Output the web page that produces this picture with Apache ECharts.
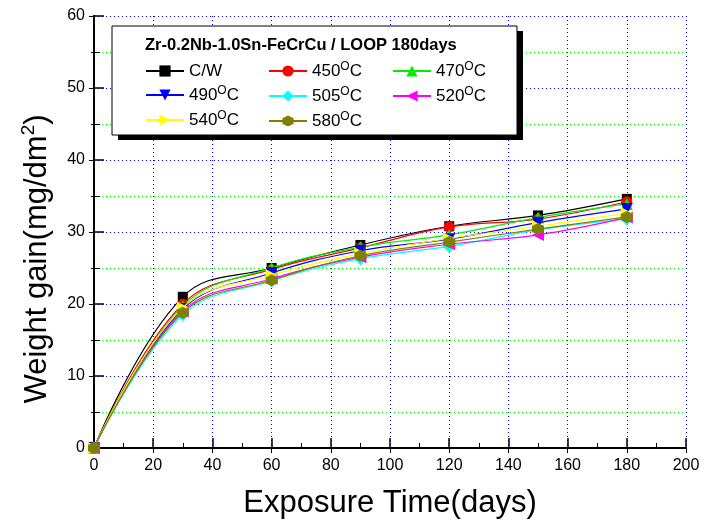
<!DOCTYPE html>
<html>
<head>
<meta charset="utf-8">
<script src="https://cdn.jsdelivr.net/npm/echarts@6/dist/echarts.min.js"></script>
<style>html,body{margin:0;padding:0;background:#fff}#c{width:704px;height:530px}</style>
</head>
<body>
<div id="c"></div>
<script>
// ---- data ----
const days = [0, 30, 60, 90, 120, 150, 180];
const seriesNames = ['C/W', '450', '470', '490', '505', '520', '540', '580'];
const cw   = [0, 21.0, 25.0, 28.2, 30.8, 32.3, 34.6];
const t450 = [0, 20.0, 24.8, 27.8, 30.7, 31.8, 34.2];
const t470 = [0, 19.7, 25.0, 27.9, 29.6, 32.0, 33.9];
const t490 = [0, 19.3, 24.3, 27.4, 29.0, 31.3, 33.2];
const t505 = [0, 18.5, 23.2, 26.3, 28.0, 30.3, 31.8];
const t520 = [0, 19.0, 23.5, 26.5, 28.3, 29.6, 32.0];
const t540 = [0, 19.5, 24.0, 27.0, 29.1, 30.8, 32.6];
const t580 = [0, 18.8, 23.3, 26.7, 28.6, 30.4, 32.1];
const xTicks = [0, 20, 40, 60, 80, 100, 120, 140, 160, 180, 200];
const yTicks = [0, 10, 20, 30, 40, 50, 60];
const legendTitle = 'Zr-0.2Nb-1.0Sn-FeCrCu / LOOP 180days';
const xName = 'Exposure Time(days)';
const yName = 'Weight gain(mg/dm{sup|2})';

const values = [cw, t450, t470, t490, t505, t520, t540, t580];
const colors = ['#000000', '#ff0000', '#00ee00', '#0000ff', '#00ffff', '#ff00ff', '#ffff00', '#808000'];
const hex = 'path://M50,0 L93.3,25 L93.3,75 L50,100 L6.7,75 L6.7,25 Z';
const symbols = [
  {s: 'rect', size: 10, r: 0},
  {s: 'circle', size: 11, r: 0},
  {s: 'triangle', size: 12, r: 0},
  {s: 'triangle', size: 12, r: 180},
  {s: 'diamond', size: 13, r: 0},
  {s: 'triangle', size: 12, r: 90},
  {s: 'triangle', size: 12, r: -90},
  {s: hex, size: 12, r: 0}
];

const FONT = 'Liberation Sans, Arial, sans-serif';

const series = seriesNames.map((n, i) => ({
  name: n,
  type: 'line',
  data: days.map((d, j) => [d, values[i][j]]),
  smooth: 0.4,
  symbol: symbols[i].s,
  symbolSize: symbols[i].size,
  symbolRotate: symbols[i].r,
  showAllSymbol: true,
  color: colors[i],
  lineStyle: {width: 1.2, color: colors[i]},
  itemStyle: {color: colors[i]},
  z: 3 + i
}));

const legendFmt = name => name === 'C/W' ? name : name + '{sup|O}C';
const legendText = {
  fontSize: 17, fontFamily: FONT, color: '#000', lineHeight: 20,
  rich: {sup: {fontSize: 12, fontFamily: FONT, color: '#000', verticalAlign: 'top', lineHeight: 20, padding: [0, 0, 9, 0]}}
};
function mkLegend(data, left) {
  return {
    data: data, left: left, top: 61, orient: 'vertical',
    itemWidth: 38, itemHeight: 14, itemGap: 4,
    formatter: legendFmt, textStyle: legendText, z: 10,
    selectedMode: false, padding: 0
  };
}

const axisFont = {fontSize: 16, fontFamily: FONT, color: '#000'};
const frameAxisLine = {show: true, lineStyle: {color: '#000', width: 2}};

const option = {
  animation: false,
  backgroundColor: '#fff',
  grid: {left: 94, right: 18, top: 16, bottom: 82, containLabel: false},
  legend: [
    mkLegend(['C/W', '490', '540'], 145),
    mkLegend(['450', '505', '580'], 268),
    mkLegend(['470', '520'], 392)
  ],
  graphic: [
    {type: 'rect', shape: {x: 118, y: 31, width: 405, height: 109}, style: {fill: '#000'}, z: 8},
    {type: 'rect', shape: {x: 112, y: 26, width: 405, height: 109}, style: {fill: '#fff', stroke: '#000', lineWidth: 1}, z: 9},
    {type: 'text', x: 145, y: 45, z: 10, style: {text: legendTitle, font: 'bold 16.5px "Liberation Sans", Arial, sans-serif', fill: '#000', verticalAlign: 'middle'}},
    {type: 'text', x: 37, y: 259, rotation: Math.PI / 2, z: 10,
      style: {text: yName, fontSize: 31, fontFamily: FONT, fill: '#000', align: 'center', verticalAlign: 'middle',
        rich: {sup: {fontSize: 19, fontFamily: FONT, fill: '#000', padding: [0, 0, 16, 0]}}}}
  ],
  xAxis: [
    {
      type: 'value', min: xTicks[0], max: xTicks[xTicks.length - 1], interval: 20,
      name: xName, nameLocation: 'middle', nameGap: 40,
      nameTextStyle: {fontSize: 31, fontFamily: FONT, color: '#000'},
      axisLine: frameAxisLine,
      axisTick: {inside: true, length: 10, lineStyle: {color: '#000', width: 1.5}},
      minorTick: {show: true, splitNumber: 2, length: 5, lineStyle: {color: '#000', width: 1}},
      axisLabel: Object.assign({margin: 10}, axisFont),
      splitLine: {show: true, lineStyle: {color: '#0000ff', type: [1, 3], width: 1}}
    },
    {
      type: 'value', position: 'top', min: xTicks[0], max: xTicks[xTicks.length - 1], interval: 20,
      axisLine: frameAxisLine,
      axisTick: {inside: true, length: 5, lineStyle: {color: '#000', width: 1}},
      axisLabel: {show: false}, splitLine: {show: false}
    }
  ],
  yAxis: [
    {
      type: 'value', min: yTicks[0], max: yTicks[yTicks.length - 1], interval: 10,
      axisLine: frameAxisLine,
      axisTick: {inside: true, length: 10, lineStyle: {color: '#000', width: 1.5}},
      minorTick: {show: true, splitNumber: 2, length: 6, lineStyle: {color: '#000', width: 1}},
      axisLabel: Object.assign({margin: 9}, axisFont),
      splitLine: {show: true, lineStyle: {color: '#0000ff', type: [1, 3], width: 1}},
      minorSplitLine: {show: true, lineStyle: {color: '#00ff00', type: [1, 3], width: 1}}
    },
    {
      type: 'value', position: 'right', min: yTicks[0], max: yTicks[yTicks.length - 1], interval: 10,
      axisLine: frameAxisLine,
      axisTick: {inside: true, length: 5, lineStyle: {color: '#000', width: 1}},
      minorTick: {show: true, splitNumber: 2, length: 3, lineStyle: {color: '#000', width: 1}},
      axisLabel: {show: false}, splitLine: {show: false}
    }
  ],
  series: series
};

const chart = echarts.init(document.getElementById('c'), null, {renderer: 'canvas'});
chart.setOption(option);
</script>
</body>
</html>
